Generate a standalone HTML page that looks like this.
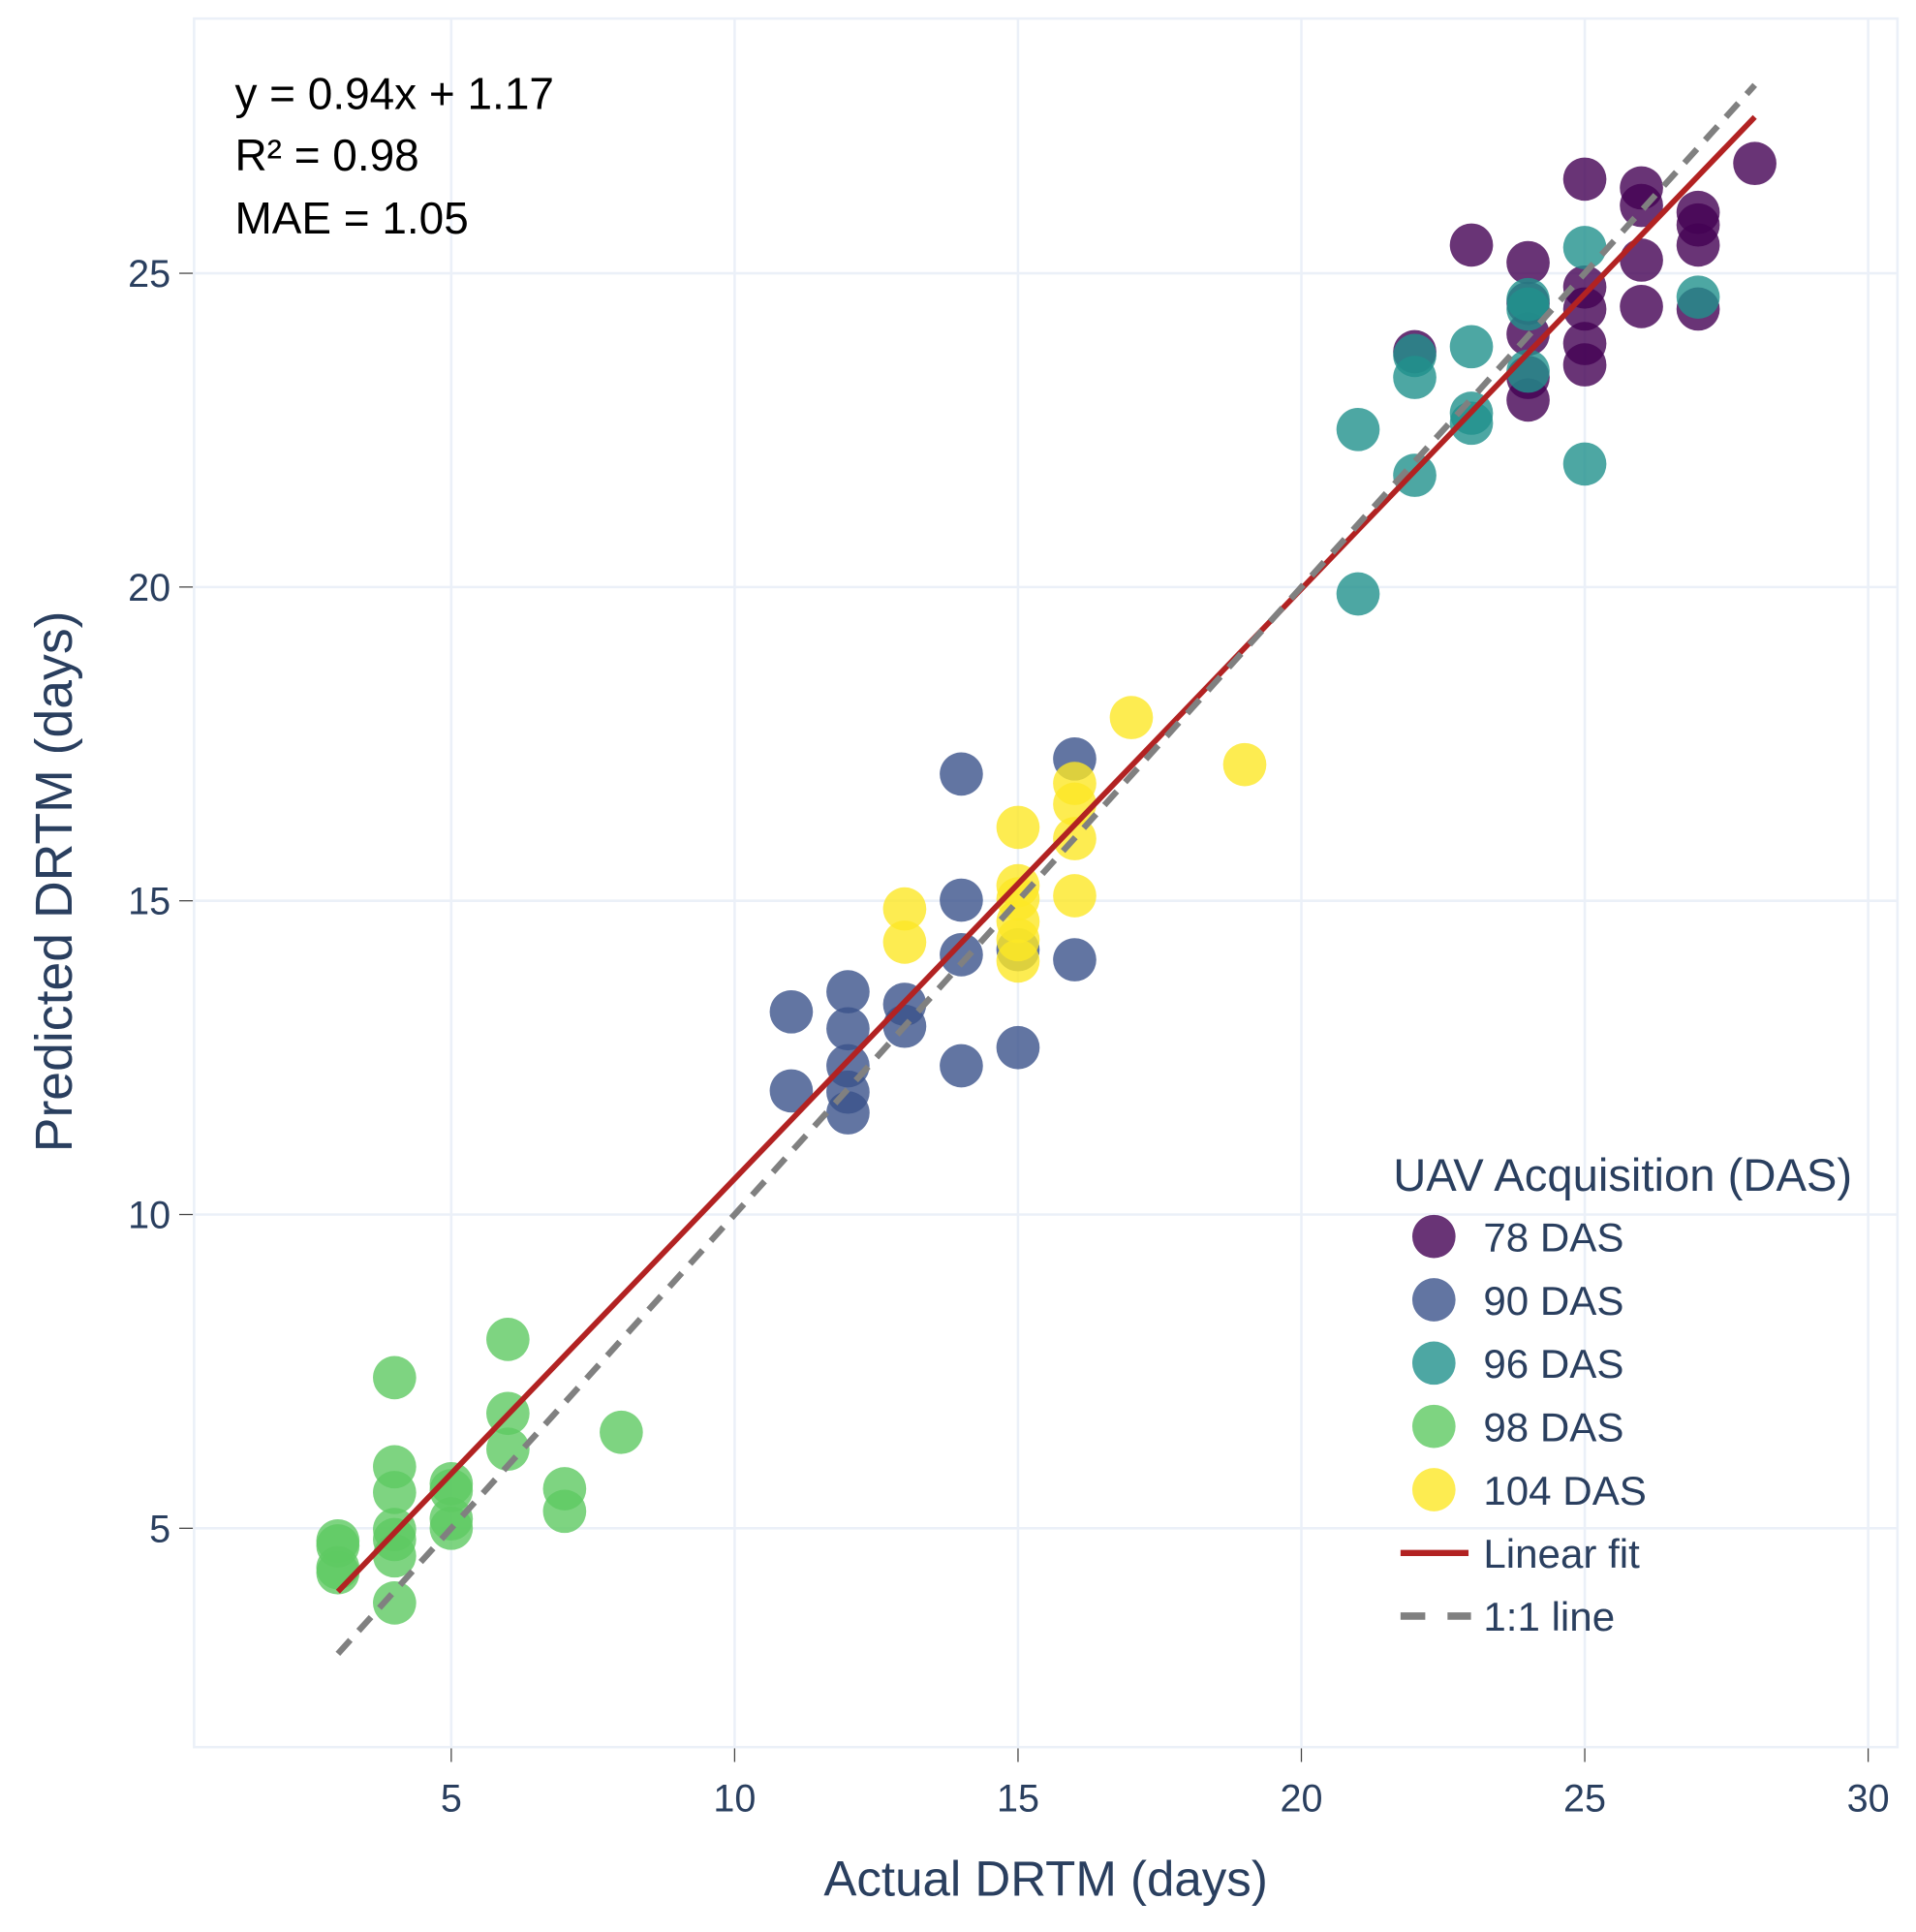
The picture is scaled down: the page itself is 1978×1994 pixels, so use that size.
<!DOCTYPE html>
<html><head><meta charset="utf-8"><style>
html,body{margin:0;padding:0;background:#fff;}
svg{display:block;font-family:"Liberation Sans","DejaVu Sans",sans-serif;}
</style></head><body>
<svg id="chart" width="1978" height="1994" viewBox="0 0 1550 1562.5">
<rect x="0" y="0" width="1550" height="1563" fill="#fff"/>
<g id="grid"></g>
<rect x="157" y="15" width="1378" height="1398" fill="none" stroke="#ebf0f8" stroke-width="2"/>
<g id="ticks"></g>
<g id="marks"></g>
<g id="lines"></g>
<g font-size="36" fill="#000">
<text x="190" y="88">y = 0.94x + 1.17</text>
<text x="190" y="138">R² = 0.98</text>
<text x="190" y="189">MAE = 1.05</text>
</g>
<text x="846" y="1533" text-anchor="middle" font-size="40" fill="#2a3f5f">Actual DRTM (days)</text>
<text transform="translate(58,713) rotate(-90)" text-anchor="middle" font-size="42" fill="#2a3f5f">Predicted DRTM (days)</text>
<g id="legend" font-size="33" fill="#2a3f5f">
<text x="1127" y="963" font-size="37">UAV Acquisition (DAS)</text>
</g>
<script>
const xTicks=[5,10,15,20,25,30];
const yTicks=[5,10,15,20,25];
const seriesNames=["78 DAS","90 DAS","96 DAS","98 DAS","104 DAS"];
const seriesColors=["#440154","#3b528b","#21918c","#5ec962","#fde725"];
const x78=[22,23,24,24,24,24,24,25,25,25,25,25,26,26,26,26,27,27,27,27,28];
const y78=[23.75,25.45,25.17,24.52,24.03,22.98,23.34,26.5,24.78,24.43,23.88,23.54,26.36,26.08,25.21,24.47,25.97,25.77,25.45,24.43,26.75];
const x90=[11,11,12,12,12,12,12,13,13,14,14,14,14,15,15,16,16];
const y90=[13.23,11.97,13.55,12.96,12.37,11.95,11.62,13.35,13.0,17.02,15.01,14.14,12.37,14.22,12.66,17.26,14.06];
const x96=[21,21,22,22,22,23,23,23,24,24,24,25,25,27];
const y96=[22.51,19.89,23.69,23.34,21.78,23.83,22.77,22.61,24.58,24.43,23.44,25.41,21.96,24.62];
const x98=[3,3,3,3,4,4,4,4,4,4,4,5,5,5,5,6,6,6,7,7,8];
const y98=[4.8,4.72,4.37,4.29,7.4,5.98,5.57,4.98,4.82,4.56,3.81,5.71,5.6,5.15,5.0,8.01,6.83,6.26,5.63,5.27,6.53];
const x104=[13,13,15,15,15,15,15,15,16,16,16,16,17,19];
const y104=[14.87,14.34,16.17,15.24,15.03,14.67,14.38,14.04,16.87,16.54,15.99,15.08,17.92,17.17];
const fitSlope=0.94, fitIntercept=1.17;
const lineRange=[3,28];

const NS="http://www.w3.org/2000/svg";
const X0=135.8, XS=45.85, Y0=1489.75, YS=50.75;
function sx(v){return X0+v*XS;}
function sy(v){return Y0-v*YS;}
function mk(tag,attrs,parent){const e=document.createElementNS(NS,tag);for(const k in attrs)e.setAttribute(k,attrs[k]);parent.appendChild(e);return e;}
const grid=document.getElementById('grid'),ticks=document.getElementById('ticks');
xTicks.forEach(t=>{
  const g=mk('line',{x1:sx(t),x2:sx(t),y1:15,y2:1413,stroke:'#ebf0f8','stroke-width':2},grid);
  
  
  const tm=mk('line',{x1:sx(t),x2:sx(t),y1:1414,y2:1425,stroke:'#444','stroke-width':1},ticks);
  
  
  const tl=mk('text',{x:sx(t),y:1465,'text-anchor':'middle','font-size':31,fill:'#2a3f5f'},ticks);
  tl.textContent=t;
  
  
});
yTicks.forEach(t=>{
  const g=mk('line',{x1:157,x2:1535,y1:sy(t),y2:sy(t),stroke:'#ebf0f8','stroke-width':2},grid);
  
  
  const tm=mk('line',{x1:145,x2:156,y1:sy(t),y2:sy(t),stroke:'#444','stroke-width':1},ticks);
  
  
  const tl=mk('text',{x:138,y:sy(t)+11,'text-anchor':'end','font-size':31,fill:'#2a3f5f'},ticks);
  tl.textContent=t;
  
  
});
const marks=document.getElementById('marks');
const allX=[x78,x90,x96,x98,x104], allY=[y78,y90,y96,y98,y104];
allX.forEach((xs,i)=>{
  xs.forEach((xv,j)=>{
    const c=mk('circle',{cx:sx(xv),cy:sy(allY[i][j]),r:17.5,fill:seriesColors[i],'fill-opacity':0.8},marks);
    
    
  });
});
const lines=document.getElementById('lines');
const fit=mk('line',{x1:sx(lineRange[0]),y1:sy(fitSlope*lineRange[0]+fitIntercept),x2:sx(lineRange[1]),y2:sy(fitSlope*lineRange[1]+fitIntercept),stroke:'#b22222','stroke-width':4.5},lines);


const one=mk('line',{x1:sx(lineRange[0]),y1:sy(lineRange[0]),x2:sx(lineRange[1]),y2:sy(lineRange[1]),stroke:'#808080','stroke-width':5,'stroke-dasharray':'15,10'},lines);


const leg=document.getElementById('legend');
seriesNames.forEach((n,i)=>{
  const yy=1000+i*51.2;
  const c=mk('circle',{cx:1160,cy:yy,r:17.5,fill:seriesColors[i],'fill-opacity':0.8},leg);
  
  
  const t=mk('text',{x:1200,y:yy+12},leg);
  t.textContent=n;
  
  
});
const l1=mk('line',{x1:1133,x2:1188,y1:1256,y2:1256,stroke:'#b22222','stroke-width':5},leg);


const t1=mk('text',{x:1200,y:1268},leg);t1.textContent='Linear fit';


const l2=mk('line',{x1:1133,x2:1190,y1:1307,y2:1307,stroke:'#808080','stroke-width':6,'stroke-dasharray':'20,18'},leg);


const t2=mk('text',{x:1200,y:1319},leg);t2.textContent='1:1 line';


</script>
</svg>
</body></html>
